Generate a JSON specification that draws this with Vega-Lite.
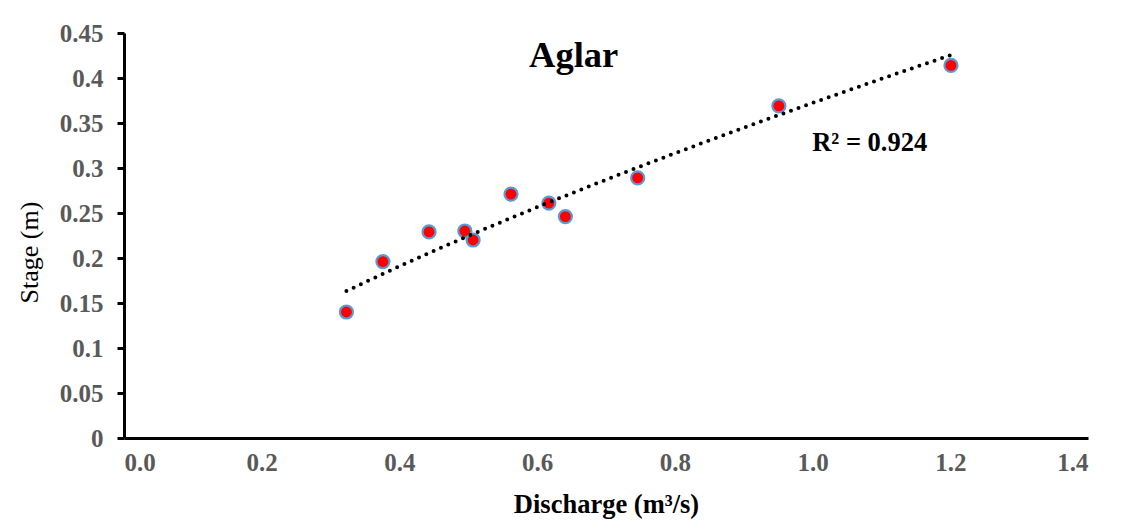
{
  "$schema": "https://vega.github.io/schema/vega-lite/v6.json",
  "autosize": {"type": "none"},
  "width": 964,
  "height": 405,
  "padding": {"left": 124, "top": 33, "right": 34, "bottom": 84},
  "background": "white",
  "config": {"view": {"stroke": null}, "font": "Liberation Serif"},
  "datasets": {
    "pts": [
      {"discharge": 0.323, "stage": 0.140},
      {"discharge": 0.376, "stage": 0.196},
      {"discharge": 0.443, "stage": 0.229},
      {"discharge": 0.495, "stage": 0.230},
      {"discharge": 0.507, "stage": 0.220},
      {"discharge": 0.562, "stage": 0.271},
      {"discharge": 0.617, "stage": 0.261},
      {"discharge": 0.641, "stage": 0.246},
      {"discharge": 0.746, "stage": 0.289},
      {"discharge": 0.951, "stage": 0.369},
      {"discharge": 1.201, "stage": 0.414}
    ],
    "labels": [
      {"lx": 0.653, "ly": 0.412, "txt": "Aglar", "kind": "title"},
      {"lx": 1.083, "ly": 0.319, "txt": "R² = 0.924", "kind": "r2"}
    ]
  },
  "layer": [
    {
      "data": {"name": "pts"},
      "mark": {"type": "point", "filled": true, "shape": "circle", "fill": "#FF0000", "stroke": "#5B9BD5", "strokeWidth": 2.2, "size": 170, "opacity": 1},
      "encoding": {
        "x": {
          "field": "discharge", "type": "quantitative",
          "scale": {"domain": [0, 1.4], "nice": false, "zero": false},
          "axis": {
            "values": [0, 0.2, 0.4, 0.6, 0.8, 1.0, 1.2, 1.4],
            "format": ".1f",
            "grid": false,
            "ticks": false,
            "domainColor": "black", "domainWidth": 3,
            "labelFont": "Liberation Serif", "labelFontWeight": "bold", "labelFontSize": 25, "labelColor": "#595959",
            "labelPadding": 12,
            "title": "Discharge (m³/s)",
            "titleFont": "Liberation Serif", "titleFontWeight": "bold", "titleFontSize": 26.5, "titleColor": "black",
            "titleY": 74, "titleBaseline": "alphabetic", "titleX": 482
          }
        },
        "y": {
          "field": "stage", "type": "quantitative",
          "scale": {"domain": [0, 0.45], "nice": false, "zero": false},
          "axis": {
            "values": [0, 0.05, 0.1, 0.15, 0.2, 0.25, 0.3, 0.35, 0.4, 0.45],
            "format": ".2~f",
            "grid": false,
            "ticks": true, "tickSize": 7, "tickWidth": 3, "tickColor": "black",
            "domainColor": "black", "domainWidth": 3,
            "labelFont": "Liberation Serif", "labelFontWeight": "bold", "labelFontSize": 25, "labelColor": "#595959",
            "labelPadding": 14,
            "title": "Stage (m)",
            "titleFont": "Liberation Serif", "titleFontWeight": "normal", "titleFontSize": 26, "titleColor": "black",
            "titleX": -95, "titleY": 219, "titleBaseline": "middle", "titleAlign": "center"
          }
        }
      }
    },
    {
      "data": {"name": "pts"},
      "transform": [{"regression": "stage", "on": "discharge", "method": "pow"}],
      "mark": {"type": "line", "color": "black", "strokeWidth": 4, "strokeDash": [0, 8], "strokeCap": "round"},
      "encoding": {
        "x": {"field": "discharge", "type": "quantitative"},
        "y": {"field": "stage", "type": "quantitative"}
      }
    },
    {
      "data": {"name": "labels"},
      "transform": [{"filter": "datum.kind == 'title'"}],
      "mark": {"type": "text", "font": "Liberation Serif", "fontWeight": "bold", "fontSize": 36.5, "align": "center", "baseline": "alphabetic", "color": "black"},
      "encoding": {
        "x": {"field": "lx", "type": "quantitative"},
        "y": {"field": "ly", "type": "quantitative"},
        "text": {"field": "txt"}
      }
    },
    {
      "data": {"name": "labels"},
      "transform": [{"filter": "datum.kind == 'r2'"}],
      "mark": {"type": "text", "font": "Liberation Serif", "fontWeight": "bold", "fontSize": 26.5, "align": "center", "baseline": "alphabetic", "color": "black"},
      "encoding": {
        "x": {"field": "lx", "type": "quantitative"},
        "y": {"field": "ly", "type": "quantitative"},
        "text": {"field": "txt"}
      }
    }
  ]
}
